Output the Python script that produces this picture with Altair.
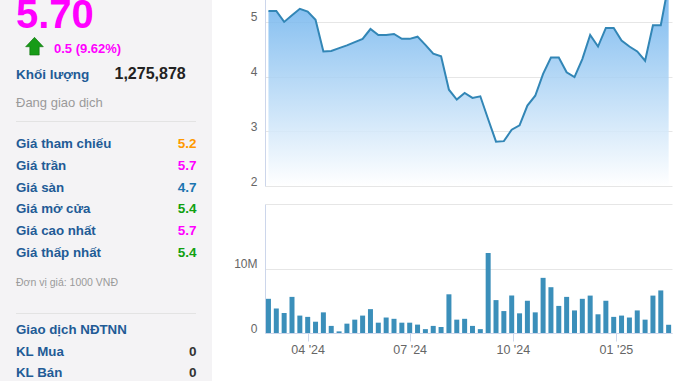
import altair as alt
import pandas as pd

# ---------------- data ----------------
dates = [
    "2024-02-26", "2024-03-04", "2024-03-11", "2024-03-18", "2024-03-25",
    "2024-04-01", "2024-04-08", "2024-04-15", "2024-04-22", "2024-04-29",
    "2024-05-06", "2024-05-13", "2024-05-20", "2024-05-27", "2024-06-03",
    "2024-06-10", "2024-06-17", "2024-06-24", "2024-07-01", "2024-07-08",
    "2024-07-15", "2024-07-22", "2024-07-29", "2024-08-05", "2024-08-12",
    "2024-08-19", "2024-08-26", "2024-09-02", "2024-09-09", "2024-09-16",
    "2024-09-23", "2024-09-30", "2024-10-07", "2024-10-14", "2024-10-21",
    "2024-10-28", "2024-11-04", "2024-11-11", "2024-11-18", "2024-11-25",
    "2024-12-02", "2024-12-09", "2024-12-16", "2024-12-23", "2024-12-30",
    "2025-01-06", "2025-01-13", "2025-01-20", "2025-01-27", "2025-02-03",
    "2025-02-10", "2025-02-17",
]
prices = [
    5.20, 5.20, 5.00, 5.12, 5.24, 5.19, 5.04, 4.46, 4.47, 4.52,
    4.57, 4.63, 4.69, 4.87, 4.76, 4.76, 4.78, 4.69, 4.69, 4.73,
    4.58, 4.42, 4.37, 3.76, 3.58, 3.70, 3.61, 3.64, 3.22, 2.81,
    2.82, 3.03, 3.11, 3.47, 3.65, 4.05, 4.35, 4.35, 4.08, 3.99,
    4.32, 4.76, 4.55, 4.89, 4.89, 4.66, 4.55, 4.46, 4.29, 4.94,
    4.94, 5.70,
]
volumes = [
    5300000, 3800000, 3100000, 5600000, 2700000, 2500000, 1750000, 3200000, 1100000, 250000,
    1450000, 2070000, 2700000, 3700000, 1600000, 2400000, 2200000, 1600000, 1600000, 1300000,
    600000, 1100000, 930000, 6000000, 2070000, 2200000, 1100000, 600000, 12400000, 5100000,
    3400000, 5800000, 3050000, 5000000, 3200000, 8550000, 7100000, 4200000, 5600000, 3500000,
    5300000, 5800000, 2900000, 5000000, 2500000, 2700000, 2400000, 3500000, 2070000, 5800000,
    6600000, 1275878,
]
price_ticks = [2, 3, 4, 5]
volume_ticks = [0, 10000000, 20000000]
month_ticks = [(2024, 4), (2024, 7), (2024, 10), (2025, 1)]

last_price = "5.70"
change_text = "0.5 (9.62%)"
volume_label = "Khối lượng"
volume_today = "1,275,878"
status_text = "Đang giao dịch"
stat_labels = ["Giá tham chiếu", "Giá trần", "Giá sàn", "Giá mở cửa", "Giá cao nhất", "Giá thấp nhất"]
stat_values = ["5.2", "5.7", "4.7", "5.4", "5.7", "5.4"]
stat_colors = ["#ff9900", "#ff00ff", "#1b75b0", "#10a010", "#ff00ff", "#10a010"]
unit_text = "Đơn vị giá: 1000 VNĐ"
foreign_title = "Giao dịch NĐTNN"
foreign_labels = ["KL Mua", "KL Bán"]
foreign_values = ["0", "0"]

df = pd.DataFrame({
    "date": [d + "T00:00:00" for d in dates],
    "price": prices,
    "volume": volumes,
})

FONT = "Liberation Sans"
LABEL_BLUE = "#225b96"
LINE_BLUE = "#3286b6"
BAR_BLUE = "#3b8fba"
AXIS_LINE = "#ccd6eb"
GRID = "#e6e6e6"

one = alt.Data(values=[{}])


def txt(s, x, y, size, color, weight="normal", align="left"):
    return alt.Chart(one).mark_text(
        font=FONT, fontSize=size, color=color, fontWeight=weight,
        align=align, baseline="alphabetic",
    ).encode(x=alt.value(x), y=alt.value(y), text=alt.value(s))


# ---------------- left info panel ----------------
panel = alt.Chart(one).mark_rect(color="#f4f3f5").encode(
    x=alt.value(0), x2=alt.value(212), y=alt.value(0), y2=alt.value(381)
)
sep1 = alt.Chart(one).mark_rule(color="#e3e3e3", strokeWidth=1).encode(
    x=alt.value(16), x2=alt.value(196), y=alt.value(121.5)
)
sep2 = alt.Chart(one).mark_rule(color="#e3e3e3", strokeWidth=1).encode(
    x=alt.value(16), x2=alt.value(196), y=alt.value(313.5)
)
arrow = alt.Chart(one).mark_point(
    shape="M0,-1L1,0.06L0.53,0.06L0.53,1L-0.53,1L-0.53,0.06L-1,0.06Z",
    filled=True, size=313, fill="#179b17", stroke="#0b6e0b", strokeWidth=0.6, opacity=1,
).encode(x=alt.value(34.5), y=alt.value(46.2))

texts = [
    txt(last_price, 16, 28, 40, "#ff00ff", "bold"),
    txt(change_text, 54, 52.5, 13, "#ff00ff", "bold"),
    txt(volume_label, 16, 78.5, 13.5, LABEL_BLUE, "bold"),
    txt(volume_today, 114.5, 78.5, 16, "#222222", "bold"),
    txt(status_text, 16, 106.5, 13, "#9a9a9a"),
    txt(unit_text, 16, 285.5, 10.5, "#9a9a9a"),
    txt(foreign_title, 16, 333.5, 13.3, LABEL_BLUE, "bold"),
]
row_y = [148, 169.8, 191.6, 213.4, 235.2, 257]
for lab, val, col, yy in zip(stat_labels, stat_values, stat_colors, row_y):
    texts.append(txt(lab, 16, yy, 13.3, LABEL_BLUE, "bold"))
    texts.append(txt(val, 196.5, yy, 13.5, col, "bold", "right"))
for lab, val, yy in zip(foreign_labels, foreign_values, [355.5, 376.5]):
    texts.append(txt(lab, 16, yy, 13.3, LABEL_BLUE, "bold"))
    texts.append(txt(val, 196.5, yy, 13.5, "#333333", "bold", "right"))

# ---------------- price + volume ----------------
x_scale = alt.Scale(
    domain=[alt.DateTime(year=2024, month=2, date=22, hours=22),
            alt.DateTime(year=2025, month=2, date=20)],
    range=[265, 672],
    padding=0,
)
x_axis = alt.Axis(
    orient="bottom", offset=-48, grid=False, title=None,
    values=[alt.DateTime(year=y, month=m, date=1) for y, m in month_ticks],
    format="%m '%y", domainColor=AXIS_LINE, tickColor=AXIS_LINE, tickSize=8,
    labelFont=FONT, labelFontSize=12.5, labelColor="#666666",
    labelBaseline="alphabetic", labelPadding=12, labelFlush=False,
)
price_scale = alt.Scale(domain=[2, 6], range=[186, -32.8], zero=False, nice=False)
price_axis = alt.Axis(
    orient="left", offset=-265, values=price_ticks, grid=True, gridColor=GRID,
    domainColor=AXIS_LINE, ticks=False, tickSize=0, labelPadding=8, title=None,
    labelFont=FONT, labelFontSize=12, labelColor="#666666",
    labelBaseline="alphabetic", labelOffset=-1, labelAlign="right",
)
vol_scale = alt.Scale(domain=[0, 20000000], range=[333, 204], nice=False)
vol_axis = alt.Axis(
    orient="left", offset=-265, values=volume_ticks, grid=True, gridColor=GRID,
    domainColor=AXIS_LINE, ticks=False, tickSize=0, labelPadding=8, title=None,
    labelFont=FONT, labelFontSize=12, labelColor="#666666",
    labelBaseline="alphabetic", labelOffset=-1, labelAlign="right",
    labelExpr="datum.value >= 20000000 ? '' : format(datum.value, '~s')",
)

gradient = alt.Gradient(
    gradient="linear",
    stops=[alt.GradientStop(color="#ffffff", offset=0),
           alt.GradientStop(color="#5eaaeb", offset=1)],
    x1=1, x2=1, y1=1, y2=0,
)

base = alt.Chart(df)
area = base.mark_area(color=gradient, fillOpacity=0.85, interpolate="linear").encode(
    x=alt.X("date:T", scale=x_scale, axis=x_axis),
    y=alt.Y("price:Q", scale=price_scale, axis=price_axis),
    y2=alt.datum(2),
)
line = base.mark_line(color=LINE_BLUE, strokeWidth=2).encode(
    x=alt.X("date:T", scale=x_scale, axis=x_axis),
    y=alt.Y("price:Q", scale=price_scale, axis=None),
)
bars = base.mark_bar(color=BAR_BLUE, size=5).encode(
    x=alt.X("date:T", scale=x_scale, axis=x_axis),
    y=alt.Y("volume:Q", scale=vol_scale, axis=vol_axis),
)

chart = alt.layer(
    panel, sep1, sep2, *texts, arrow, area, line, bars
).resolve_scale(y="independent").properties(
    width=678, height=381,
    autosize=alt.AutoSizeParams(type="none"),
    padding=0,
    background="white",
).configure_view(stroke=None)

chart.save("out.html", embed_options={"renderer": "svg", "actions": False})
